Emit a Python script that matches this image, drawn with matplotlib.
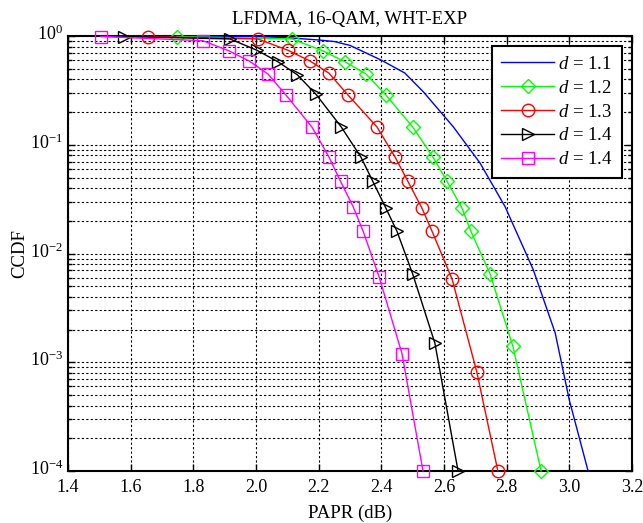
import math
import matplotlib
matplotlib.use("Agg")
import matplotlib.pyplot as plt
from matplotlib.ticker import LogLocator, FixedLocator, NullFormatter, FuncFormatter
from matplotlib.transforms import ScaledTranslation

plt.rcParams["font.family"] = ["Liberation Serif", "DejaVu Serif"]
plt.rcParams["mathtext.fontset"] = "custom"
plt.rcParams["mathtext.rm"] = "Liberation Serif"
plt.rcParams["mathtext.it"] = "Liberation Serif:italic"

# CCDF curves of PAPR for LFDMA with 16-QAM and WHT-EXP precoding
x_d11 = [1.50, 2.00, 2.10, 2.20, 2.25, 2.30, 2.40, 2.475, 2.535, 2.63, 2.715, 2.795, 2.885, 2.955, 3.00, 3.06]
y_d11 = [1.0, 0.99, 0.965, 0.92, 0.89, 0.82, 0.60, 0.457, 0.305, 0.146, 0.068, 0.027, 0.0071, 0.00186, 0.00045, 0.0001]

x_d12 = [1.748, 2.115, 2.214, 2.284, 2.351, 2.415, 2.50, 2.565, 2.61, 2.658, 2.686, 2.747, 2.82, 2.91]
y_d12 = [0.99, 0.94, 0.73, 0.58, 0.448, 0.286, 0.146, 0.077, 0.046, 0.026, 0.016, 0.0065, 0.0014, 0.0001]

x_d13 = [1.655, 2.006, 2.102, 2.172, 2.233, 2.294, 2.386, 2.444, 2.485, 2.53, 2.562, 2.626, 2.705, 2.772]
y_d13 = [0.99, 0.94, 0.74, 0.59, 0.455, 0.286, 0.146, 0.077, 0.046, 0.026, 0.016, 0.0058, 0.00081, 0.0001]

x_d14a = [1.579, 1.917, 2.003, 2.07, 2.132, 2.192, 2.272, 2.335, 2.373, 2.415, 2.45, 2.50, 2.571, 2.645]
y_d14a = [0.99, 0.94, 0.74, 0.58, 0.44, 0.29, 0.146, 0.077, 0.046, 0.026, 0.016, 0.0065, 0.0015, 0.0001]

x_d14b = [1.505, 1.83, 1.914, 1.978, 2.038, 2.096, 2.179, 2.233, 2.27, 2.31, 2.342, 2.393, 2.466, 2.533]
y_d14b = [0.99, 0.906, 0.73, 0.59, 0.448, 0.286, 0.145, 0.077, 0.046, 0.027, 0.016, 0.0061, 0.0012, 0.0001]

labels = [r"$d$ = 1.1", r"$d$ = 1.2", r"$d$ = 1.3", r"$d$ = 1.4", r"$d$ = 1.4"]
xticks = [1.4, 1.6, 1.8, 2.0, 2.2, 2.4, 2.6, 2.8, 3.0, 3.2]

fig = plt.figure(figsize=(6.43, 5.23), dpi=100)
ax = fig.add_axes([0.1058, 0.0994, 0.877, 0.8317])

series = [
    (x_d11, y_d11, "#0000ff", None),
    (x_d12, y_d12, "#00ff00", "D"),
    (x_d13, y_d13, "#ff0000", "o"),
    (x_d14a, y_d14a, "#000000", ">"),
    (x_d14b, y_d14b, "#ff00ff", "s"),
]
for (xs, ys, c, m), lab in zip(series, labels):
    kw = {}
    if m is not None:
        kw = dict(marker=m, markersize=9 if m != "D" else 7.5, markerfacecolor="none",
                  markeredgecolor=c, markeredgewidth=1.0)
    ax.plot(xs, ys, color=c, lw=1.0, label=lab, clip_on=False, zorder=3, **kw)

ax.set_yscale("log")
ax.set_xlim(1.4, 3.2)
ax.set_ylim(1e-4, 1)
ax.xaxis.set_major_locator(FixedLocator(xticks))
ax.xaxis.set_major_formatter(FuncFormatter(lambda v, p: f"{v:.1f}"))
ax.yaxis.set_major_locator(LogLocator(base=10, numticks=10))
ax.yaxis.set_minor_locator(LogLocator(base=10, subs=range(2, 10), numticks=20))
ax.yaxis.set_minor_formatter(NullFormatter())
ax.yaxis.set_major_formatter(FuncFormatter(lambda v, p: r"$10^{%d}$" % round(math.log10(v))))

grid_kw = dict(color="black", linestyle=(0, (2, 2)), linewidth=0.8)
ax.grid(True, which="major", axis="both", **grid_kw)
ax.grid(True, which="minor", axis="y", **grid_kw)

ax.tick_params(which="both", direction="in", top=True, right=True, labelsize=13, width=1.0)
ax.tick_params(which="major", length=5)
ax.tick_params(axis="x", which="major", pad=6)
ax.tick_params(which="minor", length=3)
for s in ax.spines.values():
    s.set_linewidth(1.5)

# lift the decade labels so the "10" sits level with its tick
for lbl in ax.get_yticklabels():
    lbl.set_transform(lbl.get_transform() + ScaledTranslation(0, 2.5 / 72, fig.dpi_scale_trans))

ax.set_title("LFDMA, 16-QAM, WHT-EXP", fontsize=13.5, pad=9)
ax.set_xlabel("PAPR (dB)", fontsize=13.5, labelpad=6)
ax.set_ylabel("CCDF", fontsize=13.5, labelpad=1)

leg = ax.legend(loc="upper right", fontsize=13.5, frameon=True, fancybox=False,
                handlelength=2.8, borderaxespad=0.55, labelspacing=0.36,
                handletextpad=0.2, borderpad=0.5)
leg.get_frame().set_edgecolor("black")
leg.get_frame().set_linewidth(1.5)
leg.get_frame().set_alpha(1)

fig.savefig("out.png", dpi=100)
